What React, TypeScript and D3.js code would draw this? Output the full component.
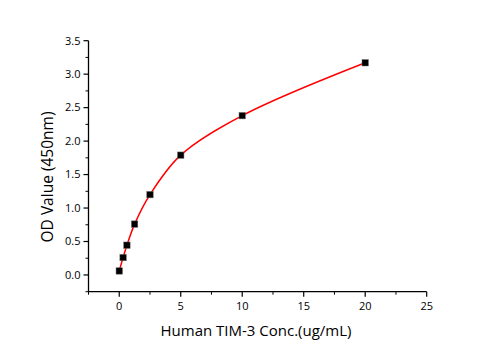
import React, { useRef, useEffect } from 'react';
import * as d3 from 'd3';

const concentrations = [0, 0.3125, 0.625, 1.25, 2.5, 5, 10, 20];
const odValues = [0.06, 0.26, 0.445, 0.76, 1.2, 1.79, 2.38, 3.17];
const xTicks = [0, 5, 10, 15, 20, 25];
const yTicks = [0, 0.5, 1.0, 1.5, 2.0, 2.5, 3.0, 3.5];

const font = "'Open Sans', 'Noto Sans', sans-serif";

const App = () => {
    const ref = useRef(null);

    useEffect(() => {
        const svg = d3.select(ref.current);
        svg.selectAll('*').remove();

        const x = d3.scaleLinear().domain([-2.5, 25]).range([88.5, 426.7]);
        const y = d3.scaleLinear().domain([-0.25, 3.5]).range([291.7, 40.7]);

        // y axis
        const yAxis = svg.append('g').attr('transform', 'translate(88.5,0)');
        yAxis.append('line')
            .attr('y1', y(-0.25)).attr('y2', y(3.5))
            .attr('stroke', '#000').attr('stroke-width', 1.3);
        const yMinor = d3.range(-0.25, 3.5, 0.5);
        yAxis.selectAll('.minor').data(yMinor).enter().append('line')
            .attr('x1', -3).attr('x2', 0)
            .attr('y1', d => y(d)).attr('y2', d => y(d))
            .attr('stroke', '#000');
        yAxis.selectAll('.major').data(yTicks).enter().append('line')
            .attr('x1', -5).attr('x2', 0)
            .attr('y1', d => y(d)).attr('y2', d => y(d))
            .attr('stroke', '#000').attr('stroke-width', 1.2);
        yAxis.selectAll('.lbl').data(yTicks).enter().append('text')
            .attr('x', -8).attr('y', d => y(d)).attr('dy', '0.35em')
            .attr('text-anchor', 'end')
            .style('font-family', font).style('font-size', '11px')
            .text(d => d3.format('.1f')(d));

        // x axis
        const xAxis = svg.append('g').attr('transform', `translate(0,${y(-0.25)})`);
        xAxis.append('line')
            .attr('x1', x(-2.5)).attr('x2', x(25))
            .attr('stroke', '#000').attr('stroke-width', 1.3);
        const xMinor = d3.range(-2.5, 25, 5);
        xAxis.selectAll('.minor').data(xMinor).enter().append('line')
            .attr('y1', 0).attr('y2', 3)
            .attr('x1', d => x(d)).attr('x2', d => x(d))
            .attr('stroke', '#000');
        xAxis.selectAll('.major').data(xTicks).enter().append('line')
            .attr('y1', 0).attr('y2', 5)
            .attr('x1', d => x(d)).attr('x2', d => x(d))
            .attr('stroke', '#000').attr('stroke-width', 1.2);
        xAxis.selectAll('.lbl').data(xTicks).enter().append('text')
            .attr('x', d => x(d)).attr('y', 18)
            .attr('text-anchor', 'middle')
            .style('font-family', font).style('font-size', '11px')
            .text(d => d);

        // axis titles
        svg.append('text')
            .attr('x', 256).attr('y', 336)
            .attr('text-anchor', 'middle')
            .style('font-family', font).style('font-size', '15px')
            .text('Human TIM-3 Conc.(ug/mL)');
        svg.append('text')
            .attr('transform', 'translate(53,177) rotate(-90)')
            .attr('text-anchor', 'middle')
            .style('font-family', font).style('font-size', '15.5px')
            .text('OD Value (450nm)');

        const points = concentrations.map((c, i) => ({ c, v: odValues[i] }));

        const line = d3.line()
            .x(d => x(d.c))
            .y(d => y(d.v))
            .curve(d3.curveCatmullRom.alpha(0.5));

        svg.append('path')
            .datum(points)
            .attr('d', line)
            .attr('fill', 'none')
            .attr('stroke', '#ff0000')
            .attr('stroke-width', 1.5);

        svg.selectAll('.pt').data(points).enter().append('rect')
            .attr('x', d => x(d.c) - 3.2)
            .attr('y', d => y(d.v) - 3.2)
            .attr('width', 6.4).attr('height', 6.4)
            .attr('fill', '#000')
            .attr('stroke', '#666').attr('stroke-width', 0.5);
    }, []);

    return (
        <svg ref={ref} width={496} height={350}
            style={{ position: 'absolute', left: 0, top: 0, background: '#fff' }} />
    );
};

export default App;
